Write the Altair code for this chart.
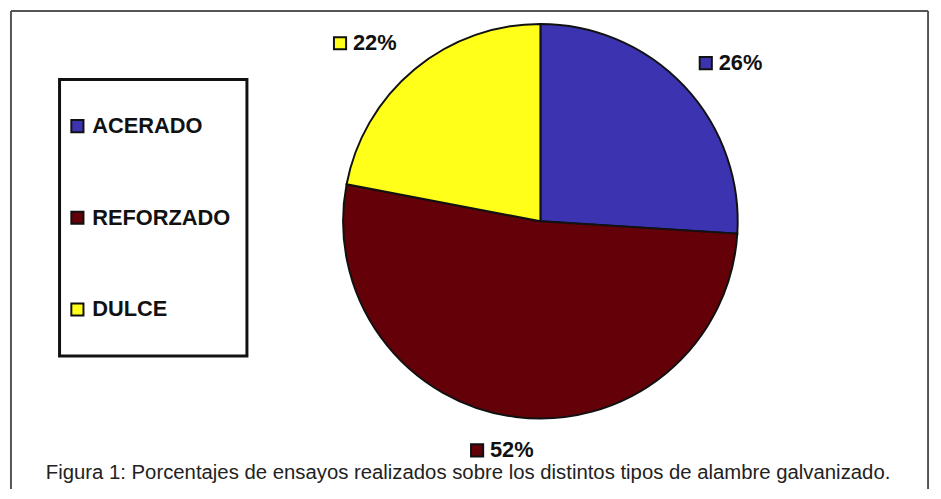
import altair as alt
import pandas as pd
import numpy as np

categories = ["ACERADO", "REFORZADO", "DULCE"]
percentages = [26, 52, 22]
labels = ["26%", "52%", "22%"]
colors = ["#3C33B0", "#640008", "#FFFF1A"]
caption = "Figura 1: Porcentajes de ensayos realizados sobre los distintos tipos de alambre galvanizado."

W, H = 933, 483
CX, CY, R = 537, 213, 199
RX, RY = 270, 233

df = pd.DataFrame({"cat": categories, "pct": percentages, "label": labels,
                   "order": list(range(len(categories)))})
cum = np.cumsum(percentages)
mid = (cum - np.array(percentages) / 2) / sum(percentages) * 2 * np.pi
df["lx"] = CX + RX * np.sin(mid)
df["ly"] = CY - RY * np.cos(mid)

color_scale = alt.Scale(domain=categories, range=colors)
one = pd.DataFrame({"a": [0]})

frame = alt.layer(
    alt.Chart(one).mark_rule(color="#555", strokeWidth=2).encode(
        x=alt.value(3), y=alt.value(1), y2=alt.value(H)),
    alt.Chart(one).mark_rule(color="#555", strokeWidth=2).encode(
        x=alt.value(928), y=alt.value(1), y2=alt.value(H)),
    alt.Chart(one).mark_rule(color="#555", strokeWidth=2).encode(
        x=alt.value(3), x2=alt.value(928), y=alt.value(1)),
)

pie = alt.Chart(df).mark_arc(outerRadius=R, stroke="#111", strokeWidth=2).encode(
    theta=alt.Theta("pct:Q", stack=True),
    order=alt.Order("order:Q"),
    color=alt.Color("cat:N", scale=color_scale, legend=None),
    x=alt.value(CX), y=alt.value(CY),
)

lab_marker = alt.Chart(df).mark_square(size=150, opacity=1, stroke="#111", strokeWidth=2, xOffset=-30).encode(
    x=alt.X("lx:Q", scale=None, axis=None),
    y=alt.Y("ly:Q", scale=None, axis=None),
    fill=alt.Fill("cat:N", scale=color_scale, legend=None),
)
lab_text = alt.Chart(df).mark_text(align="left", baseline="middle", dx=-17,
                                   font="Liberation Sans", fontWeight="bold",
                                   fontSize=22, color="#111").encode(
    x=alt.X("lx:Q", scale=None, axis=None),
    y=alt.Y("ly:Q", scale=None, axis=None),
    text="label:N",
)

legend_box = alt.Chart(one).mark_rect(fill="white", stroke="#111", strokeWidth=3).encode(
    x=alt.value(52), x2=alt.value(241), y=alt.value(70), y2=alt.value(349))

leg_y = alt.Y("cat:N", scale=alt.Scale(type="point", domain=categories, range=[117, 302], padding=0), axis=None)
leg_marker = alt.Chart(df).mark_square(size=150, opacity=1, stroke="#111", strokeWidth=2).encode(
    x=alt.value(70), y=leg_y,
    fill=alt.Fill("cat:N", scale=color_scale, legend=None),
)
leg_text = alt.Chart(df).mark_text(align="left", baseline="middle",
                                   font="Liberation Sans", fontWeight="bold",
                                   fontSize=22, color="#111").encode(
    x=alt.value(85), y=leg_y, text="cat:N",
)

cap = alt.Chart(one).mark_text(text=caption, align="center", baseline="middle",
                               font="Liberation Sans", fontSize=20.5, color="#222").encode(
    x=alt.value(464), y=alt.value(467))

chart = alt.layer(frame, pie, lab_marker, lab_text, legend_box, leg_marker, leg_text, cap).resolve_scale(
    x="independent", y="independent", fill="shared"
).properties(
    width=W, height=H, padding=0, autosize=alt.AutoSizeParams(type="none"), background="white"
).configure_view(stroke=None)

chart.save("out.html", embed_options={"renderer": "svg", "actions": False})
